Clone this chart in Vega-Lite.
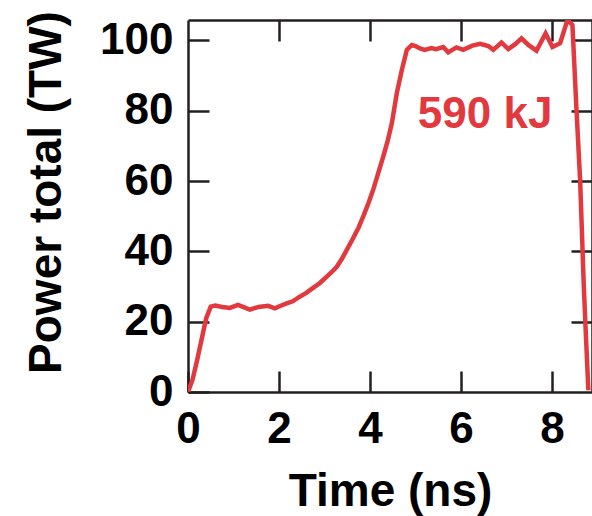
{
  "$schema": "https://vega.github.io/schema/vega-lite/v6.json",
  "width": 404,
  "height": 372,
  "autosize": {"type": "none"},
  "padding": {"left": 188, "top": 20, "right": 0, "bottom": 124},
  "background": "white",
  "config": {
    "view": {"stroke": null},
    "font": "Liberation Sans",
    "axis": {
      "grid": false,
      "domainColor": "#231f20",
      "domainWidth": 2.5,
      "tickColor": "#231f20",
      "tickWidth": 2.5,
      "tickSize": -21,
      "labelFont": "Liberation Sans",
      "labelFontWeight": "bold",
      "labelFontSize": 44,
      "labelColor": "black",
      "labelPadding": 36,
      "labelFlush": false,
      "labelOverlap": false,
      "titleFont": "Liberation Sans",
      "titleFontWeight": "bold",
      "titleFontSize": 46,
      "titleColor": "black"
    }
  },
  "datasets": {
    "power": [
      {"t": 0, "P": 0},
      {"t": 0.1, "P": 3.5},
      {"t": 0.2, "P": 9},
      {"t": 0.3, "P": 15},
      {"t": 0.4, "P": 21},
      {"t": 0.5, "P": 24.3},
      {"t": 0.6, "P": 24.6},
      {"t": 0.75, "P": 24.2},
      {"t": 0.92, "P": 23.9},
      {"t": 1.1, "P": 24.8},
      {"t": 1.25, "P": 24.0},
      {"t": 1.36, "P": 23.4},
      {"t": 1.55, "P": 24.2},
      {"t": 1.76, "P": 24.5},
      {"t": 1.91, "P": 23.8},
      {"t": 2.05, "P": 24.6},
      {"t": 2.17, "P": 25.2},
      {"t": 2.3, "P": 25.8},
      {"t": 2.46, "P": 27.1},
      {"t": 2.6, "P": 28.2},
      {"t": 2.75, "P": 29.6},
      {"t": 2.9, "P": 31.0},
      {"t": 3.05, "P": 32.8},
      {"t": 3.15, "P": 34.0},
      {"t": 3.27, "P": 35.6},
      {"t": 3.38, "P": 37.8},
      {"t": 3.49, "P": 40.4},
      {"t": 3.62, "P": 43.5},
      {"t": 3.75, "P": 46.8},
      {"t": 3.85, "P": 49.9},
      {"t": 3.96, "P": 53.5},
      {"t": 4.07, "P": 57.5},
      {"t": 4.18, "P": 62.2},
      {"t": 4.29, "P": 66.9},
      {"t": 4.39, "P": 71.5},
      {"t": 4.48, "P": 76.4},
      {"t": 4.59, "P": 85},
      {"t": 4.7, "P": 91.6},
      {"t": 4.81, "P": 97.3},
      {"t": 4.92, "P": 98.7},
      {"t": 5.0, "P": 98.4},
      {"t": 5.1, "P": 97.7},
      {"t": 5.2, "P": 97.3},
      {"t": 5.35, "P": 97.8},
      {"t": 5.45, "P": 97.5},
      {"t": 5.61, "P": 98.1},
      {"t": 5.72, "P": 96.6},
      {"t": 5.9, "P": 98},
      {"t": 6.05, "P": 97.3},
      {"t": 6.25, "P": 98.5},
      {"t": 6.42, "P": 99},
      {"t": 6.6, "P": 98.4},
      {"t": 6.71, "P": 97.3},
      {"t": 6.89, "P": 99.4},
      {"t": 7.04, "P": 97.5},
      {"t": 7.2, "P": 99},
      {"t": 7.33, "P": 100.6},
      {"t": 7.48, "P": 98.7},
      {"t": 7.66, "P": 97.1},
      {"t": 7.86, "P": 102},
      {"t": 8.01, "P": 98.1},
      {"t": 8.18, "P": 99.2},
      {"t": 8.34, "P": 105.8},
      {"t": 8.45, "P": 104.4},
      {"t": 8.54, "P": 80},
      {"t": 8.62, "P": 60},
      {"t": 8.7, "P": 30},
      {"t": 8.75, "P": 15},
      {"t": 8.8, "P": 0.5}
    ],
    "note": [{"t": 6.53, "P": 75, "label": "590 kJ"}]
  },
  "layer": [
    {
      "data": {"name": "power"},
      "mark": {"type": "line", "color": "#e2393f", "strokeWidth": 4.5, "clip": true},
      "encoding": {
        "x": {
          "field": "t", "type": "quantitative",
          "scale": {"domain": [0, 8.88], "nice": false, "zero": false},
          "axis": {"orient": "bottom", "values": [0, 2, 4, 6, 8], "title": "Time (ns)",
                   "titleX": 202, "titleY": 113, "titleAlign": "center", "titleBaseline": "alphabetic"}
        },
        "y": {
          "field": "P", "type": "quantitative",
          "scale": {"domain": [0, 105.8], "nice": false, "zero": false},
          "axis": {"orient": "left", "values": [0, 20, 40, 60, 80, 100], "title": "Power total (TW)",
                   "titleX": -128, "titleY": 172, "titleAngle": -90, "titleAlign": "center", "titleBaseline": "alphabetic"}
        }
      }
    },
    {
      "data": {"name": "power"},
      "mark": {"type": "line", "opacity": 0},
      "encoding": {
        "x": {
          "field": "t", "type": "quantitative",
          "scale": {"domain": [0, 8.88], "nice": false, "zero": false},
          "axis": {"orient": "top", "values": [2, 4, 6, 8], "labels": false, "title": null}
        },
        "y": {
          "field": "P", "type": "quantitative",
          "scale": {"domain": [0, 105.8], "nice": false, "zero": false},
          "axis": {"orient": "right", "values": [20, 40, 60, 80, 100], "labels": false, "title": null}
        }
      }
    },
    {
      "data": {"name": "note"},
      "mark": {"type": "text", "color": "#e2393f", "font": "Liberation Sans", "fontWeight": "bold", "fontSize": 44, "align": "center", "baseline": "alphabetic"},
      "encoding": {
        "x": {"field": "t", "type": "quantitative", "axis": null},
        "y": {"field": "P", "type": "quantitative", "axis": null},
        "text": {"field": "label"}
      }
    }
  ],
  "resolve": {"axis": {"x": "independent", "y": "independent"}}
}
